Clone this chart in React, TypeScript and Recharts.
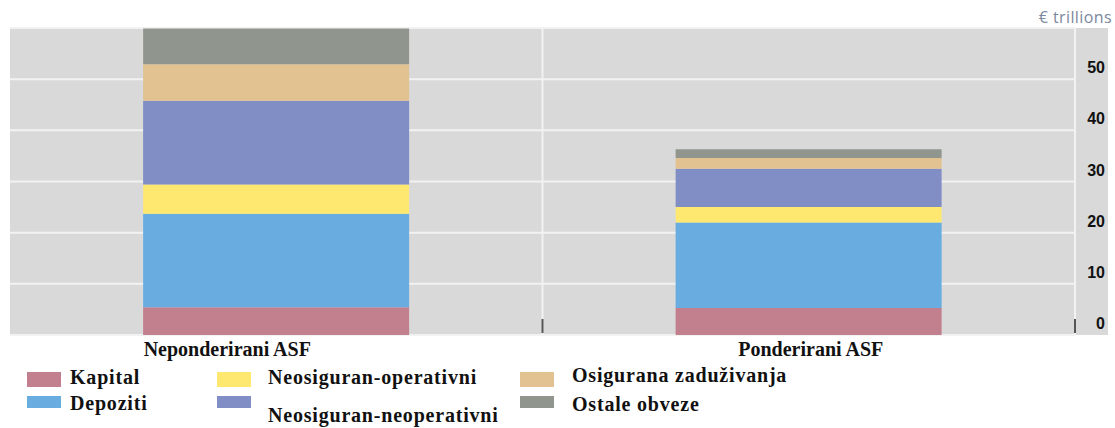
import React from 'react';
import { BarChart, Bar, XAxis, YAxis, CartesianGrid, Legend } from 'recharts';

// categories and stacked values (€ trillions), bottom to top
const categories = ['Neponderirani ASF', 'Ponderirani ASF'];
const seriesNames = [
  'Kapital',
  'Depoziti',
  'Neosiguran-operativni',
  'Neosiguran-neoperativni',
  'Osigurana zaduživanja',
  'Ostale obveze',
];
const kapital = [5.4, 5.3];
const depoziti = [18.3, 16.7];
const neosiguranOperativni = [5.7, 3.0];
const neosiguranNeoperativni = [16.4, 7.5];
const osiguranaZaduzivanja = [7.1, 2.1];
const ostaleObveze = [7.0, 1.7];
const yTicks = [0, 10, 20, 30, 40, 50];

const data = categories.map((name, i) => ({
  name,
  kapital: kapital[i],
  depoziti: depoziti[i],
  neoOp: neosiguranOperativni[i],
  neoNeop: neosiguranNeoperativni[i],
  osigurana: osiguranaZaduzivanja[i],
  ostale: ostaleObveze[i],
}));

const W = 1115;
const H = 428;
const PLOT_LEFT = 10;
const PLOT_TOP = 28;
const PLOT_BOTTOM = 335;
const Y_AXIS_W = 40;
const SERIF = '"Liberation Serif", "Times New Roman", serif';

// legend placement (col-major: 2 rows per column)
const legendSwatchX = [27, 217, 520];
const legendTextX = [70, 268, 572];
const legendSwatchY = [[12, 15], [36, 12]];
const legendBaselines = [[24, 50], [24, 62], [22, 51]];

const XTick = (props: any) => {
  const { x, y, payload, index } = props;
  const half = payload?.offset ?? (W - Y_AXIS_W - PLOT_LEFT) / categories.length / 2;
  const dx = index === 0 ? -49 : 2;
  return (
    <g>
      <line x1={x + half} x2={x + half} y1={y - 16} y2={y - 2} stroke="#555" strokeWidth={2} />
      <text x={x + dx} y={y + 21} textAnchor="middle" fontFamily={SERIF} fontWeight="bold" fontSize={20} fill="#111">
        {payload.value}
      </text>
    </g>
  );
};

const YTick = (props: any) => {
  const { x, y, payload } = props;
  return (
    <text x={x + 30} y={y - 6} textAnchor="end" fontFamily='"Liberation Sans", Arial, sans-serif' fontWeight="bold" fontSize={16} fill="#111">
      {payload.value}
    </text>
  );
};

const LegendContent = (props: any) => {
  const payload = [...(props.payload || [])].sort(
    (a: any, b: any) => seriesNames.indexOf(a.value) - seriesNames.indexOf(b.value)
  );
  return (
    <svg width={W} height={68} style={{ display: 'block' }}>
      {payload.map((entry: any, i: number) => {
        const col = Math.floor(i / 2);
        const row = i % 2;
        return (
          <g key={entry.value}>
            <rect x={legendSwatchX[col]} y={legendSwatchY[row][0]} width={34} height={legendSwatchY[row][1]} fill={entry.color} />
            <text
              x={legendTextX[col]}
              y={legendBaselines[col][row]}
              fontFamily={SERIF}
              fontWeight="bold"
              fontSize={20}
              letterSpacing={0.8}
              fill="#111"
            >
              {entry.value}
            </text>
          </g>
        );
      })}
    </svg>
  );
};

export default function App() {
  return (
    <div style={{ position: 'absolute', left: 0, top: 0, width: W, height: H, background: '#fff' }}>
      <div
        style={{
          position: 'absolute',
          left: PLOT_LEFT,
          top: PLOT_TOP,
          width: 1108 - PLOT_LEFT,
          height: PLOT_BOTTOM - PLOT_TOP,
          background: '#d9d9d9',
        }}
      />
      <BarChart
        width={W}
        height={H}
        data={data}
        margin={{ top: PLOT_TOP, right: 0, bottom: 0, left: PLOT_LEFT }}
        barCategoryGap="25%"
        style={{ position: 'absolute', left: 0, top: 0 }}
      >
        <CartesianGrid
          stroke="#f2f2f2"
          strokeWidth={2}
          verticalCoordinatesGenerator={({ offset }: any) => [
            offset.left + offset.width / 2,
            offset.left + offset.width,
          ]}
        />
        <XAxis
          dataKey="name"
          height={H - PLOT_BOTTOM}
          axisLine={false}
          tickLine={false}
          tickSize={0}
          tickMargin={0}
          tick={<XTick />}
          interval={0}
        />
        <YAxis
          orientation="right"
          width={Y_AXIS_W}
          domain={[0, 60]}
          ticks={yTicks}
          axisLine={false}
          tickLine={false}
          tickSize={0}
          tickMargin={0}
          tick={<YTick />}
          label={{
            content: ({ viewBox }: any) => (
              <text
                x={viewBox.x + viewBox.width - 3}
                y={viewBox.y - 5}
                textAnchor="end"
                fontFamily='"Open Sans", sans-serif'
                fontSize={16}
                letterSpacing={0.4}
                fill="#7a889e"
              >
                € trillions
              </text>
            ),
          }}
        />
        <Legend
          layout="horizontal"
          verticalAlign="middle"
          align="center"
          wrapperStyle={{ top: 360, left: 0, width: W, height: 68 }}
          content={<LegendContent />}
        />
        <Bar dataKey="kapital" name={seriesNames[0]} stackId="a" fill="#c27f8e" isAnimationActive={false} />
        <Bar dataKey="depoziti" name={seriesNames[1]} stackId="a" fill="#69ace0" isAnimationActive={false} />
        <Bar dataKey="neoOp" name={seriesNames[2]} stackId="a" fill="#ffe86f" isAnimationActive={false} />
        <Bar dataKey="neoNeop" name={seriesNames[3]} stackId="a" fill="#818dc5" isAnimationActive={false} />
        <Bar dataKey="osigurana" name={seriesNames[4]} stackId="a" fill="#e1c290" isAnimationActive={false} />
        <Bar dataKey="ostale" name={seriesNames[5]} stackId="a" fill="#90968e" isAnimationActive={false} />
      </BarChart>
    </div>
  );
}
